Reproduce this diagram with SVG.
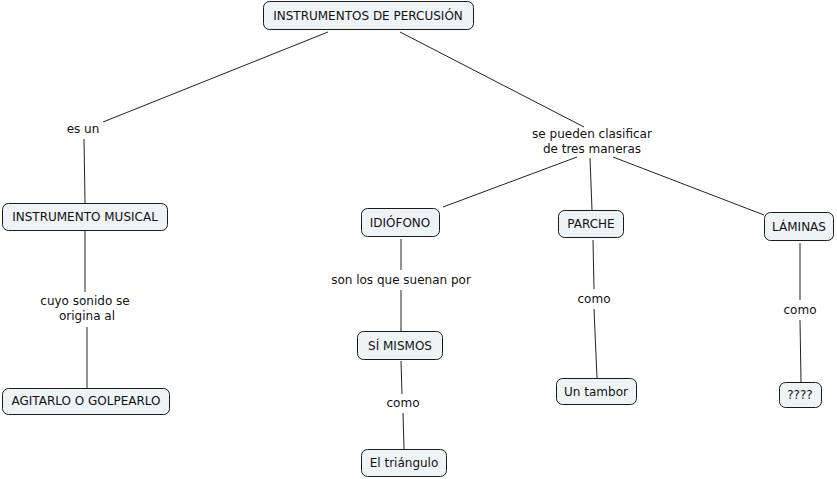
<svg xmlns="http://www.w3.org/2000/svg" width="837" height="479" viewBox="0 0 837 479">
<style>
.n rect{fill:#eef4f6;stroke:#1a1a1a;stroke-width:1}
.n text,.l text{font-family:"DejaVu Sans",Verdana,sans-serif;font-size:12px;fill:#111;text-anchor:middle;dominant-baseline:central}
.c line{stroke:#222;stroke-width:1}
</style>
<rect width="837" height="479" fill="#fff"/>
<g class="c" id="connectors">
<line x1="328" y1="32" x2="103" y2="122"/>
<line x1="84" y1="139" x2="85" y2="203"/>
<line x1="85" y1="231" x2="85" y2="292"/>
<line x1="87" y1="327" x2="87" y2="388"/>
<line x1="400" y1="32" x2="584" y2="127"/>
<line x1="577" y1="157" x2="443" y2="207"/>
<line x1="590" y1="158" x2="592" y2="210"/>
<line x1="613" y1="157" x2="764" y2="215"/>
<line x1="401" y1="239" x2="401" y2="270"/>
<line x1="401" y1="290" x2="401" y2="331"/>
<line x1="401" y1="361" x2="402" y2="394"/>
<line x1="403" y1="413" x2="404" y2="449"/>
<line x1="593" y1="240" x2="594" y2="289"/>
<line x1="594" y1="309" x2="597" y2="378"/>
<line x1="800" y1="243" x2="800" y2="300"/>
<line x1="800" y1="320" x2="801" y2="382"/>
</g>
<g class="l" id="labels">
<text x="83" y="129">es un</text>
<text x="592" y="134">se pueden clasificar</text>
<text x="592" y="149">de tres maneras</text>
<text x="85" y="301">cuyo sonido se</text>
<text x="87" y="316">origina al</text>
<text x="401" y="280">son los que suenan por</text>
<text x="594" y="299">como</text>
<text x="403" y="403">como</text>
<text x="800" y="310">como</text>
</g>
<g class="n" id="n-root"><rect x="263.5" y="1.5" width="210" height="28" rx="6"/><text x="368" y="16">INSTRUMENTOS DE PERCUSIÓN</text></g>
<g class="n" id="n-musical"><rect x="2.5" y="203.5" width="165" height="27" rx="6"/><text x="85" y="217">INSTRUMENTO MUSICAL</text></g>
<g class="n" id="n-agitarlo"><rect x="2.5" y="388.5" width="167" height="26" rx="6"/><text x="86" y="401">AGITARLO O GOLPEARLO</text></g>
<g class="n" id="n-idiofono"><rect x="361.5" y="208.5" width="78" height="28" rx="6"/><text x="400" y="223">IDIÓFONO</text></g>
<g class="n" id="n-parche"><rect x="558.5" y="210.5" width="65" height="27" rx="6"/><text x="591" y="224">PARCHE</text></g>
<g class="n" id="n-laminas"><rect x="764.5" y="212.5" width="69" height="28" rx="6"/><text x="799" y="227">LÁMINAS</text></g>
<g class="n" id="n-simismos"><rect x="357.5" y="331.5" width="85" height="28" rx="6"/><text x="400" y="346">SÍ MISMOS</text></g>
<g class="n" id="n-tambor"><rect x="556.5" y="378.5" width="80" height="26" rx="6"/><text x="596" y="392">Un tambor</text></g>
<g class="n" id="n-triangulo"><rect x="361.5" y="449.5" width="85" height="27" rx="6"/><text x="404" y="463">El triángulo</text></g>
<g class="n" id="n-q"><rect x="779.5" y="382.5" width="42" height="25" rx="6"/><text x="800" y="395">????</text></g>
</svg>
